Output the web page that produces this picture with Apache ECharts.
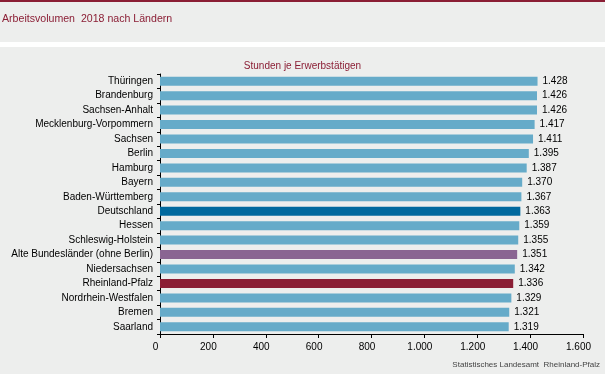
<!DOCTYPE html>
<html><head><meta charset="utf-8">
<script src="https://cdn.jsdelivr.net/npm/echarts@6/dist/echarts.min.js"></script>
<style>html,body{margin:0;padding:0;background:#fff}#c{width:605px;height:374px}</style>
</head><body><div id="c"></div>
<script>
const categories = ["Thüringen","Brandenburg","Sachsen-Anhalt","Mecklenburg-Vorpommern","Sachsen","Berlin","Hamburg","Bayern","Baden-Württemberg","Deutschland","Hessen","Schleswig-Holstein","Alte Bundesländer (ohne Berlin)","Niedersachsen","Rheinland-Pfalz","Nordrhein-Westfalen","Bremen","Saarland"];
const hours = [1428,1426,1426,1417,1411,1395,1387,1370,1367,1363,1359,1355,1351,1342,1336,1329,1321,1319];
const xTicks = [0,200,400,600,800,1000,1200,1400,1600];
const highlight = {"Deutschland":"#00699e","Alte Bundesländer (ohne Berlin)":"#8a6592","Rheinland-Pfalz":"#8b1e35"};
const baseColor = "#66abc9";
const fmt = v => { const s = String(Math.round(v)); return s.length>3 ? s.slice(0,s.length-3)+"."+s.slice(-3) : s; };
const font = "'Liberation Sans', Arial, sans-serif";
const chart = echarts.init(document.getElementById('c'), null, {renderer:'canvas'});
chart.setOption({
  animation:false,
  backgroundColor:'#ffffff',
  graphic:[
    {type:'rect',shape:{x:0,y:0,width:605,height:42},style:{fill:'#edeeed'},z:-10},
    {type:'rect',shape:{x:0,y:0,width:605,height:2},style:{fill:'#8b1e35'},z:-9},
    {type:'rect',shape:{x:0,y:47,width:605,height:327},style:{fill:'#edeeed'},z:-10},
    {type:'text',left:2,top:14,style:{text:'Arbeitsvolumen  2018 nach Ländern',fill:'#8b1e35',font:'10.6px '+font}},
    {type:'text',right:5,top:361,style:{text:'Statistisches Landesamt  Rheinland-Pfalz',fill:'#444444',font:'8px '+font}}
  ],
  title:{text:'Stunden je Erwerbstätigen',left:'center',top:56,textStyle:{color:'#8b1e35',fontSize:10,fontWeight:'normal',fontFamily:font}},
  grid:{left:160,right:22,top:74,bottom:40,containLabel:false},
  xAxis:{type:'value',min:xTicks[0],max:xTicks[xTicks.length-1],interval:200,
    axisLine:{show:true,lineStyle:{color:'#000',width:1}},
    axisTick:{show:true,length:4,lineStyle:{color:'#000'}},
    splitLine:{show:false},
    axisLabel:{color:'#000',fontSize:10,fontFamily:font,margin:8,padding:[0,9,0,0],formatter:v=>fmt(v)}},
  yAxis:{type:'category',data:categories,inverse:true,
    axisLine:{show:true,lineStyle:{color:'#000',width:1}},
    axisTick:{show:true,length:3,lineStyle:{color:'#000'}},
    axisLabel:{color:'#000',fontSize:10,fontFamily:font,margin:7}},
  series:[{type:'bar',barWidth:9,
    data:hours.map((v,i)=>({value:v,itemStyle:{color:highlight[categories[i]]||baseColor}})),
    label:{show:true,position:'right',distance:5,color:'#000',fontSize:10,fontFamily:font,formatter:p=>fmt(p.value)}}]
});
</script></body></html>
